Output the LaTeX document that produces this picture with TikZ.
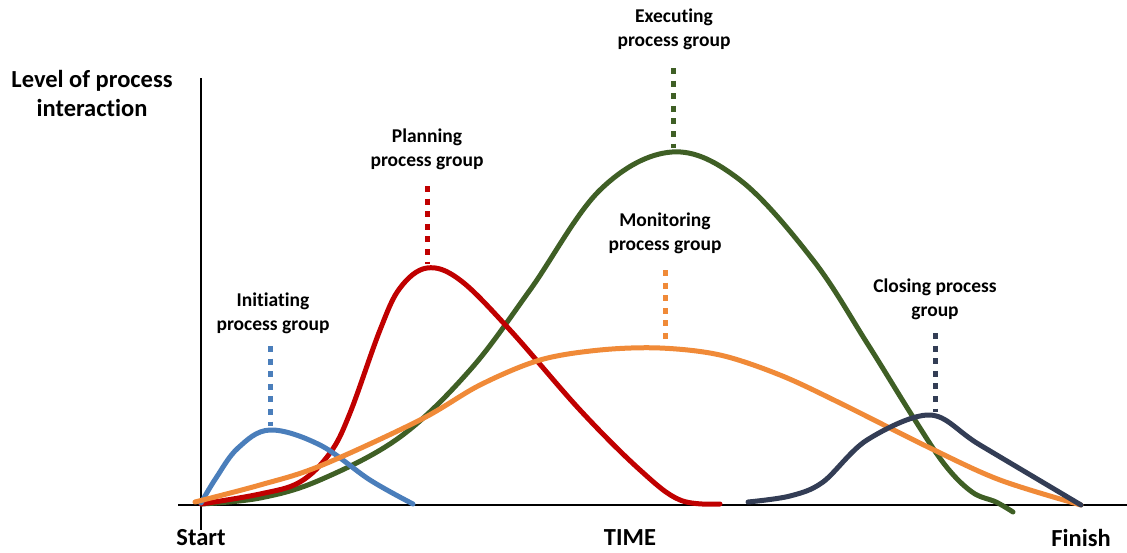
\documentclass[tikz,border=0pt]{standalone}
\usepackage{fontspec}
\setmainfont[Ligatures=NoCommon]{Carlito}
\begin{document}
\begin{tikzpicture}[x=1pt,y=-1pt,
  lbl/.style={font=\bfseries\fontsize{19.5}{24}\selectfont, align=center, inner sep=0pt},
  axlbl/.style={font=\bfseries\fontsize{24.5}{29}\selectfont, align=center, inner sep=0pt},
  curve/.style={line width=5pt, line cap=round, line join=round},
  peakline/.style={line width=5pt, dash pattern=on 6pt off 6.6pt},
]
\definecolor{cblue}{HTML}{4A7EBB}
\definecolor{cred}{HTML}{C00000}
\definecolor{cgreen}{HTML}{3F5F25}
\definecolor{corange}{HTML}{F08A38}
\definecolor{cnavy}{HTML}{333D55}
\useasboundingbox (0,0) rectangle (1127,552);
% axes
\draw[line width=2.5pt] (201,78) -- (201,530);
\draw[line width=2.5pt] (178,505) -- (1127,505);
% axis labels
\node[axlbl] (ylab) at (92,93) {Level of process\\interaction};
\node[axlbl] (start) at (201,538) {Start};
\node[axlbl] (time) at (630,538) {TIME};
\node[axlbl] (finish) at (1081,538) {Finish};
% group labels
\node[lbl] (init) at (273,313) {Initiating\\process group};
\node[lbl] (plan) at (427,149) {Planning\\process group};
\node[lbl] (exec) at (674,29) {Executing\\process group};
\node[lbl] (mon) at (665,233) {Monitoring\\process group};
\node[lbl] (clos) at (935,299) {Closing process\\group};
% peak lines
\draw[peakline, cblue] (270,346) -- (270,426);
\draw[peakline, cred] (427,186) -- (427,264);
\draw[peakline, cgreen] (673,68) -- (673,148);
\draw[peakline, corange] (665,270) -- (665,345);
\draw[peakline, cnavy] (935,333) -- (935,412);
% curves
\draw[curve, cgreen] plot[smooth, tension=0.6] coordinates {(201,504) (260,498) (320,480) (400,437) (470,370) (530,290) (600,190) (672,152) (740,180) (813,260) (867,343) (913,417) (945,465) (972,492) (996,502) (1013,512)};
\draw[curve, cred] plot[smooth, tension=0.6] coordinates {(201,504) (260,494) (300,482) (330,453) (350,413) (380,330) (400,288) (427,268) (460,280) (510,330) (580,410) (640,470) (680,500) (720,504)};
\draw[curve, cblue] plot[smooth, tension=0.6] coordinates {(201,503) (216,478) (238,448) (270,430) (320,445) (370,480) (413,504)};
\draw[curve, corange] plot[smooth, tension=0.55] coordinates {(195,502) (260,485) (320,466) (420,420) (480,385) (540,360) (600,350) (660,348) (720,355) (780,375) (840,403) (930,448) (1000,480) (1081,505)};
\draw[curve, cnavy] plot[smooth, tension=0.55] coordinates {(748,502) (790,496) (823,482) (867,440) (930,415) (980,445) (1081,505)};
\end{tikzpicture}
\end{document}
